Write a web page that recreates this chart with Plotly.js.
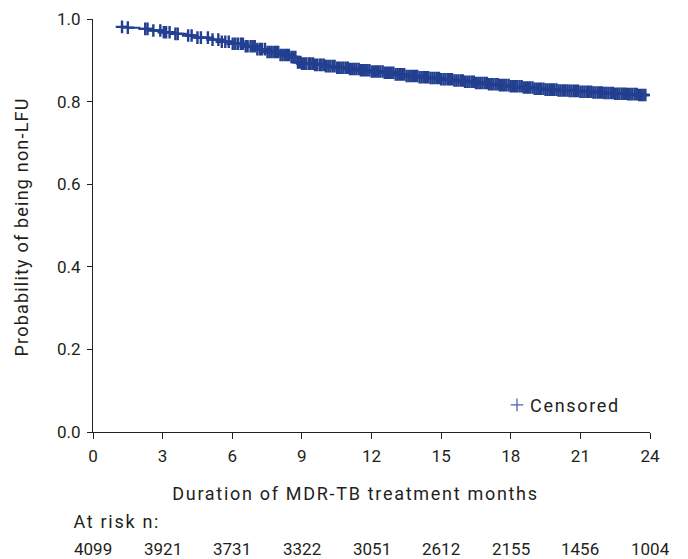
<!DOCTYPE html>
<html>
<head>
<meta charset="utf-8">
<script src="https://cdn.plot.ly/plotly-3.0.1.min.js"></script>
<style>
html,body{margin:0;padding:0;background:#fff;}
#chart{width:688px;height:559px;}
.legendtext{letter-spacing:1.7px;}
.legendpoints path.scatterpts{stroke-width:1.3px !important;stroke:#4f63ad !important;transform:translate(27px,0px) !important;}
g.annotation[data-index="0"] text{letter-spacing:1.7px;}
g.annotation[data-index="1"] text{letter-spacing:1.2px;}
g.annotation[data-index="2"] text{letter-spacing:1.7px;}
</style>
</head>
<body>
<div id="chart"></div>
<script>
// Kaplan-Meier step curve (months, probability of being non-LFU)
const kmTime = [1.2, 1.5, 2, 2.5, 3, 3.5, 4, 4.5, 5, 5.5, 6, 6.5, 7, 7.5, 8, 8.5, 8.8, 9, 9.5, 10, 10.5, 11, 11.5, 12, 12.5, 13, 13.5, 14, 14.5, 15, 15.5, 16, 16.5, 17, 17.5, 18, 18.5, 19, 19.5, 20, 20.5, 21, 21.5, 22, 22.5, 23, 23.5, 24];
const kmSurv = [0.981, 0.979, 0.976, 0.972, 0.968, 0.964, 0.960, 0.955, 0.950, 0.945, 0.940, 0.934, 0.927, 0.920, 0.913, 0.908, 0.895, 0.892, 0.889, 0.886, 0.882, 0.879, 0.876, 0.873, 0.870, 0.866, 0.862, 0.859, 0.857, 0.854, 0.851, 0.848, 0.845, 0.842, 0.840, 0.837, 0.834, 0.831, 0.829, 0.827, 0.826, 0.824, 0.822, 0.821, 0.819, 0.818, 0.816, 0.815];

// Censoring times (months)
const censorTimes = [1.25, 1.5, 2.25, 2.35, 2.6, 2.9, 3.05, 3.15, 3.3, 3.55, 3.65, 4.1, 4.25, 4.5, 4.65, 4.95, 5.15, 5.4, 5.55, 5.7, 5.85,
  6.02, 6.13, 6.24, 6.37, 6.46, 6.58, 6.66, 6.79, 6.88, 6.97, 7.08, 7.19, 7.28, 7.41,
  7.52, 7.61, 7.70, 7.81, 7.89, 7.98, 8.08, 8.17, 8.27, 8.36, 8.44, 8.55, 8.63, 8.72, 8.83, 8.91, 9.01, 9.10, 9.19, 9.30, 9.38, 9.48, 9.57, 9.66, 9.77, 9.85, 9.95,
  10.04, 10.14, 10.23, 10.33, 10.41, 10.52, 10.60, 10.70, 10.79, 10.89, 10.98, 11.07, 11.17, 11.26, 11.35, 11.45, 11.54, 11.63, 11.73, 11.82, 11.91,
  12.01, 12.10, 12.20, 12.29, 12.38, 12.48, 12.57, 12.66, 12.76, 12.85, 12.94, 13.04, 13.13, 13.23, 13.32, 13.41, 13.51, 13.60, 13.69, 13.79, 13.88, 13.97,
  14.07, 14.16, 14.26, 14.35, 14.44, 14.54, 14.63, 14.72, 14.82, 14.91, 15.00, 15.10, 15.19, 15.29, 15.38, 15.47, 15.57, 15.66, 15.75, 15.85, 15.94,
  16.03, 16.13, 16.22, 16.32, 16.41, 16.50, 16.60, 16.69, 16.78, 16.88, 16.97, 17.06, 17.16, 17.25, 17.35, 17.44, 17.53, 17.63, 17.72, 17.81, 17.91,
  18.00, 18.09, 18.19, 18.28, 18.38, 18.47, 18.56, 18.66, 18.75, 18.84, 18.94, 19.03, 19.12, 19.22, 19.31, 19.41, 19.50, 19.59, 19.69, 19.78, 19.87, 19.97,
  20.06, 20.15, 20.25, 20.34, 20.44, 20.53, 20.62, 20.72, 20.81, 20.90, 21.00, 21.09, 21.18, 21.28, 21.37, 21.47, 21.56, 21.65, 21.75, 21.84, 21.93,
  22.03, 22.12, 22.21, 22.31, 22.40, 22.50, 22.59, 22.68, 22.78, 22.87, 22.96, 23.06, 23.15, 23.24, 23.34, 23.43, 23.53, 23.62, 23.71, 23.80];

// Axis ticks and at-risk table
const xTicks = [0, 3, 6, 9, 12, 15, 18, 21, 24];
const yTicks = [0, 0.2, 0.4, 0.6, 0.8, 1.0];
const yTickLabels = ['0.0', '0.2', '0.4', '0.6', '0.8', '1.0'];
const atRiskTimes = [0, 3, 6, 9, 12, 15, 18, 21, 24];
const atRiskN = [4099, 3921, 3731, 3322, 3051, 2612, 2155, 1456, 1004];

const xTitle = 'Duration of MDR-TB treatment months';
const yTitle = 'Probability of being non-LFU';
const atRiskLabel = 'At risk n:';

// survival value of the step curve at a censoring time (lookup)
function survAt(t) {
  let s = kmSurv[0];
  for (let i = 0; i < kmTime.length; i++) {
    if (kmTime[i] <= t) s = kmSurv[i]; else break;
  }
  return s;
}
const censorSurv = censorTimes.map(survAt);

const blue = '#233f8f';
const textColor = '#231f20';
const fontFam = 'Roboto, "DejaVu Sans", sans-serif';
const txtFont = {family: fontFam, size: 18, color: textColor};
const numFont = {family: fontFam, size: 17, color: textColor};

const traces = [
  {
    x: kmTime, y: kmSurv, type: 'scatter', mode: 'lines',
    line: {shape: 'hv', color: blue, width: 2},
    showlegend: false, hoverinfo: 'skip'
  },
  {
    x: censorTimes, y: censorSurv, type: 'scatter', mode: 'markers',
    name: 'Censored',
    marker: {symbol: 'cross-thin-open', size: 9, color: blue, line: {color: blue, width: 2.4}},
    showlegend: true
  }
];

const annotations = [
  { // x-axis title (index 0)
    text: xTitle, xref: 'paper', yref: 'paper',
    x: 0.472, y: -0.150, xanchor: 'center', yanchor: 'middle', showarrow: false, font: txtFont
  },
  { // y-axis title (index 1)
    text: yTitle, xref: 'paper', yref: 'paper', textangle: -90,
    x: -0.1275, y: 0.497, xanchor: 'center', yanchor: 'middle', showarrow: false, font: txtFont
  },
  { // at-risk label (index 2)
    text: atRiskLabel, xref: 'paper', yref: 'paper',
    x: -0.0235, y: -0.2155, xanchor: 'left', yanchor: 'middle', showarrow: false, font: txtFont
  }
];
atRiskTimes.forEach((t, i) => {
  annotations.push({
    text: String(atRiskN[i]), xref: 'x', yref: 'paper',
    x: t, y: -0.283, xanchor: 'center', yanchor: 'middle', showarrow: false, font: numFont
  });
});

const layout = {
  width: 688, height: 559,
  margin: {l: 93, r: 38, t: 19, b: 127},
  paper_bgcolor: '#fff', plot_bgcolor: '#fff',
  font: numFont,
  xaxis: {
    range: [0, 24], tickvals: xTicks, ticktext: xTicks.map(String),
    showgrid: false, zeroline: false, showline: true, linecolor: '#222', linewidth: 1,
    ticks: 'outside', ticklen: 6, tickcolor: '#222', tickwidth: 1, ticklabelstandoff: 3,
    tickfont: numFont
  },
  yaxis: {
    range: [0, 1.0], tickvals: yTicks, ticktext: yTickLabels,
    showgrid: false, zeroline: false, showline: true, linecolor: '#222', linewidth: 1,
    ticks: 'outside', ticklen: 5, tickcolor: '#222', tickwidth: 1, ticklabelstandoff: 3,
    tickfont: numFont
  },
  legend: {
    x: 0.7127, y: 0.065, xanchor: 'left', yanchor: 'middle',
    bgcolor: 'rgba(0,0,0,0)', borderwidth: 0, itemwidth: 30,
    font: txtFont
  },
  annotations: annotations,
  showlegend: true
};

Plotly.newPlot('chart', traces, layout, {displayModeBar: false, staticPlot: true});
</script>
</body>
</html>
